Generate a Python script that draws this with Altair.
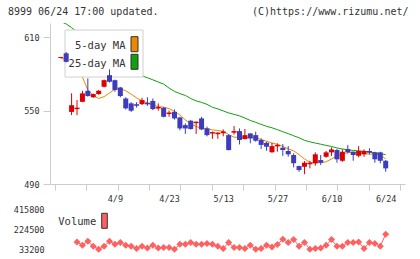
import altair as alt
import pandas as pd

# ---- data (index 0 = first candle, 60 = 6/24) ----
opens = [593.2, 597, 549, 551.3, 557.3, 566.3, 561, 563.6, 569.6, 579.1,
         575, 569, 560, 556, 555.3, 555.4, 556.5, 558, 551.8, 552.4,
         547.3, 549.1, 544.5, 538.2, 541.8, 539.8, 543.7, 535.5, 531.3, 530.8,
         531.6, 530, 532, 533.3, 526.8, 531.4, 530, 526, 523.7, 516,
         520.8, 519.7, 517, 513.7, 504.7, 504.1, 506.2, 506.9, 509.6, 512.3,
         515.9, 517.8, 509, 518.6, 516.4, 513.1, 514.3, 517, 515.9, 515.9, 509]
highs = [594, 598, 564.2, 558.7, 566.3, 576.5, 564, 567, 575.5, 583.8,
         575.5, 569.5, 561, 557, 557, 560.6, 561, 560, 556, 553,
         550.2, 551, 545, 539.6, 542.5, 541.2, 545, 537, 533, 532.5,
         534.7, 530.5, 537.4, 535.5, 535, 531.5, 532.8, 527.4, 524.6, 523.7,
         523.3, 522.7, 521, 515, 505, 508.8, 509, 515.9, 513.7, 517,
         520, 518.6, 518.3, 521.9, 516.5, 521, 518.3, 519.2, 516.4, 516.4, 509.6]
lows = [593, 589.5, 546.4, 546.4, 557, 561.5, 560.5, 563, 569, 573,
        565.5, 561, 551, 549, 552.5, 554.6, 554, 550.5, 550, 544.5,
        545.1, 542.7, 534, 531, 534.5, 531, 534, 529, 527, 527,
        529, 517.5, 530.5, 522.4, 526.5, 523.3, 524.6, 518.6, 517.2, 515.5,
        516.5, 513, 512.3, 503.6, 500, 498, 502.8, 505, 505.5, 511.5,
        513, 507.4, 508.2, 515, 509, 511.8, 512.3, 514.3, 507.4, 506.9, 500]
closes = [594, 590, 554.5, 552.5, 564.2, 562, 563.6, 566.3, 575, 573.7,
          567, 562, 551.9, 550, 554, 558.7, 555.2, 551.3, 553, 545,
          548.5, 543.7, 535.5, 535.5, 535, 541, 534.7, 530, 532.5, 532,
          533, 517.8, 533.3, 526, 530, 527.3, 525.4, 522, 520.5, 521,
          522, 517.8, 514.3, 507, 501.4, 507.4, 507.4, 514.3, 507.4, 515.9,
          518.3, 510.2, 516.4, 516, 513.7, 517, 517, 515.6, 510.2, 509, 502.8]
ma5 = [593, 591.5, 585, 580, 577.5, 567, 562.5, 560, 561.5, 564.5,
       567.5, 568, 566.3, 563.5, 560.5, 558, 556.5, 554.8, 553.3, 553,
       551.7, 549.5, 546.5, 542.5, 539.5, 537, 535.8, 535.3, 534.3, 533.8,
       533, 530.5, 528.3, 528.2, 528.2, 528, 527.8, 526.5, 525, 523.5,
       522.5, 520.8, 518.7, 517.2, 514, 510.5, 507.8, 507.4, 507.4, 508.2,
       510.5, 513, 514.8, 515.6, 516.1, 515.5, 514.8, 514.5, 514.4, 514, 510.5]
ma25 = [623, 621, 618, 614.5, 611, 607.5, 604, 601, 598, 595,
        592, 589, 586, 583, 580.5, 578.5, 577, 575.3, 573.5, 571.8,
        568.5, 565.8, 564, 562.5, 560, 558, 556.8, 555.2, 552.8, 551.5,
        549.8, 548.2, 547, 545.8, 544, 542, 540.5, 538.8, 537.2, 536,
        534.5, 532.8, 531.2, 529.5, 527.8, 525.8, 524.5, 523.5, 522.6, 521.6,
        520.7, 519.5, 518.7, 518, 517.5, 517.1, 516.8, 516.3, 515.6, 514.8, 514]
vol_start = 3
volume = [103000, 71500, 109700, 61900, 33200, 61900, 109700, 81000, 97300, 71500,
          61900, 39900, 61900, 45600, 71500, 45600, 49500, 49500, 33500, 81000,
          81000, 97300, 81000, 81000, 87700, 81000, 61900, 39900, 97300, 49500,
          49500, 39900, 71500, 33500, 39900, 71500, 55200, 78200, 128900, 97300,
          126000, 61900, 97300, 33500, 39900, 45600, 71500, 126000, 61900, 61900,
          97300, 97300, 103000, 39900, 97300, 87700, 61900, 176700]
date_labels = ["4/9", "4/23", "5/13", "5/27", "6/10", "6/24"]
date_label_idx = [10, 20, 30, 40, 50, 60]
price_ticks = [490, 550, 610]
volume_ticks = [33200, 224500, 415800]
header_left = "8999 06/24 17:00 updated."
header_right = "(C)https://www.rizumu.net/"
legend_labels = ["5-day MA", "25-day MA"]

# ---- styling / layout ----
W, H = 355, 231
MAIN_H = 161
FONT = "DejaVu Sans Mono"
RED, BLUE = "#dd0000", "#3c3cbc"
ORANGE, GREEN = "#ee8800", "#10a010"
VOLC = "#ff6060"
AX = "#cccccc"
TXT = "#333333"
X_DOMAIN = [-1.064, 62.64]
grid_ticks = [round(X_DOMAIN[0] + k * (X_DOMAIN[1] - X_DOMAIN[0]) / 11, 4) for k in range(12)]

n = len(opens)
df = pd.DataFrame({
    "j": list(range(n)), "open": opens, "high": highs, "low": lows, "close": closes,
    "ma5": ma5, "ma25": ma25,
})
df["dir"] = ["up" if c >= o else "down" for o, c in zip(opens, closes)]
vdf = pd.DataFrame({"j": list(range(vol_start, vol_start + len(volume))), "vol": volume})

label_expr = ""
for i, l in zip(date_label_idx, date_labels):
    label_expr += f"datum.value == {i} ? '{l}' : "
label_expr += "''"

x_axis = alt.Axis(
    values=grid_ticks + date_label_idx, labelExpr=label_expr, grid=False, title=None,
    orient="bottom", offset=-(H - MAIN_H), domainColor=AX, tickColor=AX, tickSize=6,
    tickOpacity={"condition": {"test": "datum.value == round(datum.value)", "value": 0}, "value": 1},
    labelFont=FONT, labelFontSize=8.5, labelColor=TXT, labelPadding=4,
    labelFlush=False, labelOverlap=False,
)
xenc = alt.X("j:Q", scale=alt.Scale(domain=X_DOMAIN, nice=False, zero=False), axis=x_axis)

price_scale = alt.Scale(domain=[490, 621.8], range=[MAIN_H, 0], nice=False, zero=False)
price_axis = alt.Axis(values=price_ticks, orient="left", grid=False, title=None,
                      domainColor=AX, tickColor=AX, tickSize=7, labelPadding=4,
                      labelFont=FONT, labelFontSize=8.5, labelColor=TXT)


def py(field):
    return alt.Y(field, scale=price_scale, axis=price_axis, title=None)


color = alt.Color("dir:N", scale=alt.Scale(domain=["up", "down"], range=[RED, BLUE]), legend=None)

base = alt.Chart(df)
ma5_line = base.mark_line(color=ORANGE, strokeWidth=1, clip=True).encode(x=xenc, y=py("ma5:Q"))
ma25_line = base.mark_line(color=GREEN, strokeWidth=1, clip=True).encode(x=xenc, y=py("ma25:Q"))

one = pd.DataFrame({"a": [0]})
legend_box = alt.Chart(one).mark_rect(fill="white", stroke="#d0d0d0", strokeWidth=1).encode(
    x=alt.value(15), x2=alt.value(93), y=alt.value(7), y2=alt.value(54))

wicks = base.mark_rule(strokeWidth=1).encode(x=xenc, y=py("low:Q"), y2="high:Q", color=color)
bodies = base.mark_bar(size=5).encode(x=xenc, y=py("open:Q"), y2="close:Q", color=color)

price_layer = alt.layer(ma5_line, ma25_line, legend_box, wicks, bodies)

vol_scale = alt.Scale(domain=[volume_ticks[0], volume_ticks[-1]], range=[226.2, 186.5], nice=False, zero=False)
vol_axis = alt.Axis(values=volume_ticks, orient="left", grid=False, title=None, domain=False,
                    ticks=False, tickSize=0, labelPadding=6, format="d",
                    labelFont=FONT, labelFontSize=8.5, labelColor=TXT)
vbase = alt.Chart(vdf)
vy = alt.Y("vol:Q", scale=vol_scale, axis=vol_axis, title=None)
vol_line = vbase.mark_line(color=VOLC, strokeWidth=1).encode(x=xenc, y=vy)
vol_pts = vbase.mark_point(shape="diamond", filled=True, size=50, color=VOLC, opacity=1).encode(x=xenc, y=vy)
vol_layer = alt.layer(vol_line, vol_pts)

# decorations: header and legends
def text(s, x, y, align, size, baseline="middle"):
    return alt.Chart(pd.DataFrame({"t": [s]})).mark_text(
        align=align, baseline=baseline, font=FONT, fontSize=size, color=TXT
    ).encode(x=alt.value(x), y=alt.value(y), text="t:N")


def swatch(x1, x2, y1, y2, fill):
    return alt.Chart(one).mark_rect(fill=fill, stroke="#333333", strokeWidth=1).encode(
        x=alt.value(x1), x2=alt.value(x2), y=alt.value(y1), y2=alt.value(y2))


deco = alt.layer(
    text(header_left, -42, -8, "left", 10, "alphabetic"),
    text(header_right, 358.5, -8, "right", 10, "alphabetic"),
    text(legend_labels[0], 75.5, 23, "right", 10.5),
    text(legend_labels[1], 75.5, 40.5, "right", 10.5),
    swatch(81, 88, 13.7, 28.7, ORANGE),
    swatch(81, 88, 31.3, 46.3, GREEN),
    text("Volume", 8.3, 199, "left", 10.5),
    swatch(51.7, 57.3, 190.3, 205.3, VOLC),
)

chart = alt.layer(price_layer, vol_layer, deco).resolve_scale(y="independent").properties(
    width=W, height=H,
    autosize=alt.AutoSizeParams(type="none"),
    padding={"left": 50, "top": 23, "right": 15, "bottom": 5},
    background="white",
).configure_view(strokeWidth=0)

chart.save("out.html", embed_options={"renderer": "svg", "actions": False})
